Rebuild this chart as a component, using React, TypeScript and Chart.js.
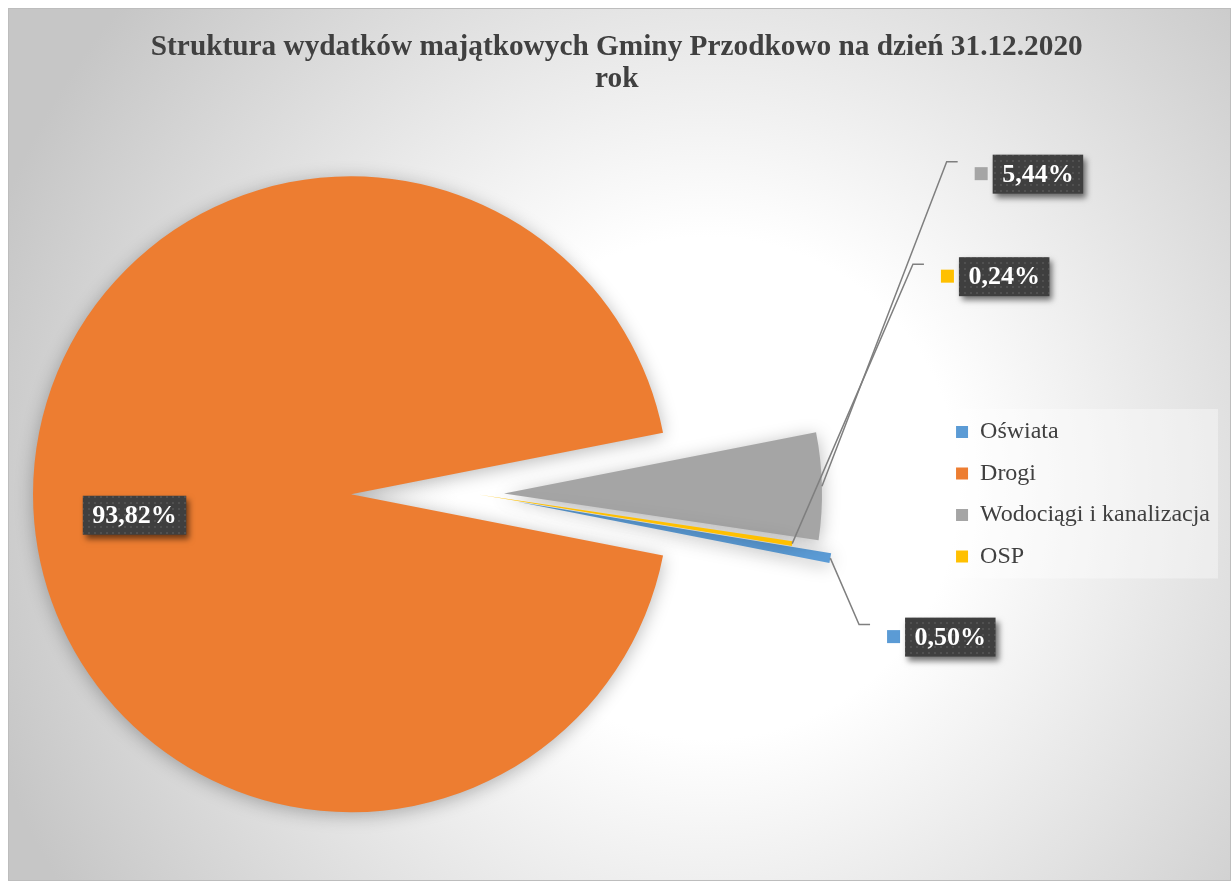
import React, { useEffect, useRef } from "react";
import { Chart, PieController, ArcElement, Legend, Title } from "chart.js";

Chart.register(PieController, ArcElement, Legend, Title);

// ---------- data ----------
const CATEGORIES: string[] = ["Oświata", "Drogi", "Wodociągi i kanalizacja", "OSP"];
const SHARES: number[] = [0.5, 93.82, 5.44, 0.24];
const TITLE_LINES: string[] = [
  "Struktura wydatków majątkowych Gminy Przodkowo na dzień 31.12.2020",
  "rok",
];

// ---------- style ----------
const COLORS = ["#5B9BD5", "#ED7D31", "#A5A5A5", "#FFC000"];
const EXPLODE = [42, 125, 28, 2];
const ROTATION = 99.32;
const RADIUS = 318;
const LABEL_LAYOUT = [
  { inside: false, dx: 120, dy: 79 },
  { inside: true, dx: -57.5, dy: 21 },
  { inside: false, dx: 216, dy: -312 },
  { inside: false, dx: 212, dy: -267 },
];
const SERIF = '"Liberation Serif", "Times New Roman", serif';
const W = 1223;
const H = 873;

const fmt = (v: number) => v.toFixed(2).replace(".", ",") + "%";

const backgroundPlugin = {
  id: "bgPlugin",
  beforeDraw(chart: any) {
    const ctx = chart.ctx as CanvasRenderingContext2D;
    ctx.save();
    const g = ctx.createRadialGradient(700, 480, 0, 700, 480, 760);
    g.addColorStop(0, "#ffffff");
    g.addColorStop(0.33, "#ffffff");
    g.addColorStop(1, "#c6c6c6");
    ctx.fillStyle = g;
    ctx.fillRect(0, 0, chart.width, chart.height);
    ctx.strokeStyle = "#bdbdbd";
    ctx.lineWidth = 1;
    ctx.strokeRect(0.5, 0.5, chart.width - 1, chart.height - 1);
    // legend backdrop
    const lg = chart.legend;
    if (lg && lg.legendHitBoxes && lg.legendHitBoxes.length) {
      const hb = lg.legendHitBoxes;
      const first = hb[0];
      const last = hb[hb.length - 1];
      let maxW = 0;
      hb.forEach((h: any) => (maxW = Math.max(maxW, h.width)));
      const left = first.left - 8;
      const top = first.top - 11;
      const right = first.left + maxW + 8;
      const bottom = last.top + last.height + 10;
      ctx.fillStyle = "rgba(255,255,255,0.38)";
      ctx.fillRect(left, top, right - left, bottom - top);
    }
    ctx.restore();
  },
};

const explodePlugin = {
  id: "explodePlugin",
  afterDatasetUpdate(chart: any, args: any) {
    const meta = args.meta;
    meta.data.forEach((arc: any, i: number) => {
      const mid = (arc.startAngle + arc.endAngle) / 2;
      const e = EXPLODE[i] || 0;
      arc.x += Math.cos(mid) * e;
      arc.y += Math.sin(mid) * e;
    });
  },
};

const shadowPlugin = {
  id: "shadowPlugin",
  beforeDatasetsDraw(chart: any) {
    const ctx = chart.ctx as CanvasRenderingContext2D;
    ctx.save();
    ctx.shadowColor = "rgba(0,0,0,0.28)";
    ctx.shadowBlur = 18;
    ctx.shadowOffsetX = 0;
    ctx.shadowOffsetY = 3;
  },
  afterDatasetsDraw(chart: any) {
    chart.ctx.restore();
  },
};

let dotPattern: CanvasPattern | null = null;
function getPattern(ctx: CanvasRenderingContext2D) {
  if (dotPattern) return dotPattern;
  const c = document.createElement("canvas");
  c.width = 6;
  c.height = 6;
  const p = c.getContext("2d")!;
  p.fillStyle = "rgba(255,255,255,0.09)";
  p.fillRect(2, 2, 2, 2);
  dotPattern = ctx.createPattern(c, "repeat");
  return dotPattern;
}

const labelPlugin = {
  id: "labelPlugin",
  afterDraw(chart: any) {
    const ctx = chart.ctx as CanvasRenderingContext2D;
    const meta = chart.getDatasetMeta(0);
    const values = chart.data.datasets[0].data as number[];
    meta.data.forEach((arc: any, i: number) => {
      const cfg = LABEL_LAYOUT[i];
      const text = fmt(values[i]);
      const mid = (arc.startAngle + arc.endAngle) / 2;
      const R = arc.outerRadius;
      let cx: number, cy: number, ax = 0, ay = 0;
      if (cfg.inside) {
        cx = arc.x + (Math.cos(mid) * R) / 2 + cfg.dx;
        cy = arc.y + (Math.sin(mid) * R) / 2 + cfg.dy;
      } else {
        ax = arc.x + Math.cos(mid) * R;
        ay = arc.y + Math.sin(mid) * R;
        cx = ax + cfg.dx;
        cy = ay + cfg.dy;
      }
      ctx.save();
      ctx.font = `bold 26px ${SERIF}`;
      const tw = ctx.measureText(text).width;
      const bw = tw + 19;
      const bh = 39;
      const bx = cx - bw / 2;
      const by = cy - bh / 2;
      if (!cfg.inside) {
        const mx = bx - 18;
        const endX = mx - 17;
        const lineY = by + 7;
        const elbowX = endX - 11;
        ctx.strokeStyle = "#7f7f7f";
        ctx.lineWidth = 1.5;
        ctx.beginPath();
        ctx.moveTo(ax, ay);
        ctx.lineTo(elbowX, lineY);
        ctx.lineTo(endX, lineY);
        ctx.stroke();
        ctx.fillStyle = COLORS[i];
        ctx.fillRect(mx, cy - 7, 13, 13);
      }
      ctx.save();
      ctx.shadowColor = "rgba(0,0,0,0.55)";
      ctx.shadowBlur = 6;
      ctx.shadowOffsetX = 3;
      ctx.shadowOffsetY = 4;
      ctx.fillStyle = "#3f3f3f";
      ctx.fillRect(bx, by, bw, bh);
      ctx.restore();
      const pat = getPattern(ctx);
      if (pat) {
        ctx.fillStyle = pat;
        ctx.fillRect(bx, by, bw, bh);
      }
      ctx.fillStyle = "#ffffff";
      ctx.textAlign = "center";
      ctx.textBaseline = "middle";
      ctx.fillText(text, cx, cy + 1);
      ctx.restore();
    });
  },
};

export default function App() {
  const ref = useRef<HTMLCanvasElement | null>(null);
  useEffect(() => {
    if (!ref.current) return;
    const chart = new Chart(ref.current, {
      type: "pie",
      data: {
        labels: CATEGORIES,
        datasets: [
          {
            data: SHARES,
            backgroundColor: COLORS,
            borderWidth: 0,
            radius: RADIUS,
          } as any,
        ],
      },
      options: {
        responsive: false,
        animation: false,
        events: [],
        rotation: ROTATION,
        layout: { padding: { left: 5.5, right: 11, top: 0, bottom: 0 } },
        plugins: {
          title: {
            display: true,
            text: TITLE_LINES,
            color: "#404040",
            font: { family: SERIF, size: 29.3, weight: "bold", lineHeight: 1.1 },
            padding: { top: 23, bottom: 12 },
          },
          legend: {
            display: true,
            position: "right",
            fullSize: false,
            labels: {
              color: "#404040",
              font: { family: SERIF, size: 24 },
              boxWidth: 12,
              boxHeight: 12,
              padding: 17.5,
            },
          },
          tooltip: { enabled: false },
        },
      } as any,
      plugins: [backgroundPlugin, explodePlugin, shadowPlugin, labelPlugin],
    });
    return () => chart.destroy();
  }, []);
  return (
    <canvas
      ref={ref}
      width={W}
      height={H}
      style={{ position: "fixed", left: 8, top: 8, width: W, height: H }}
    />
  );
}
